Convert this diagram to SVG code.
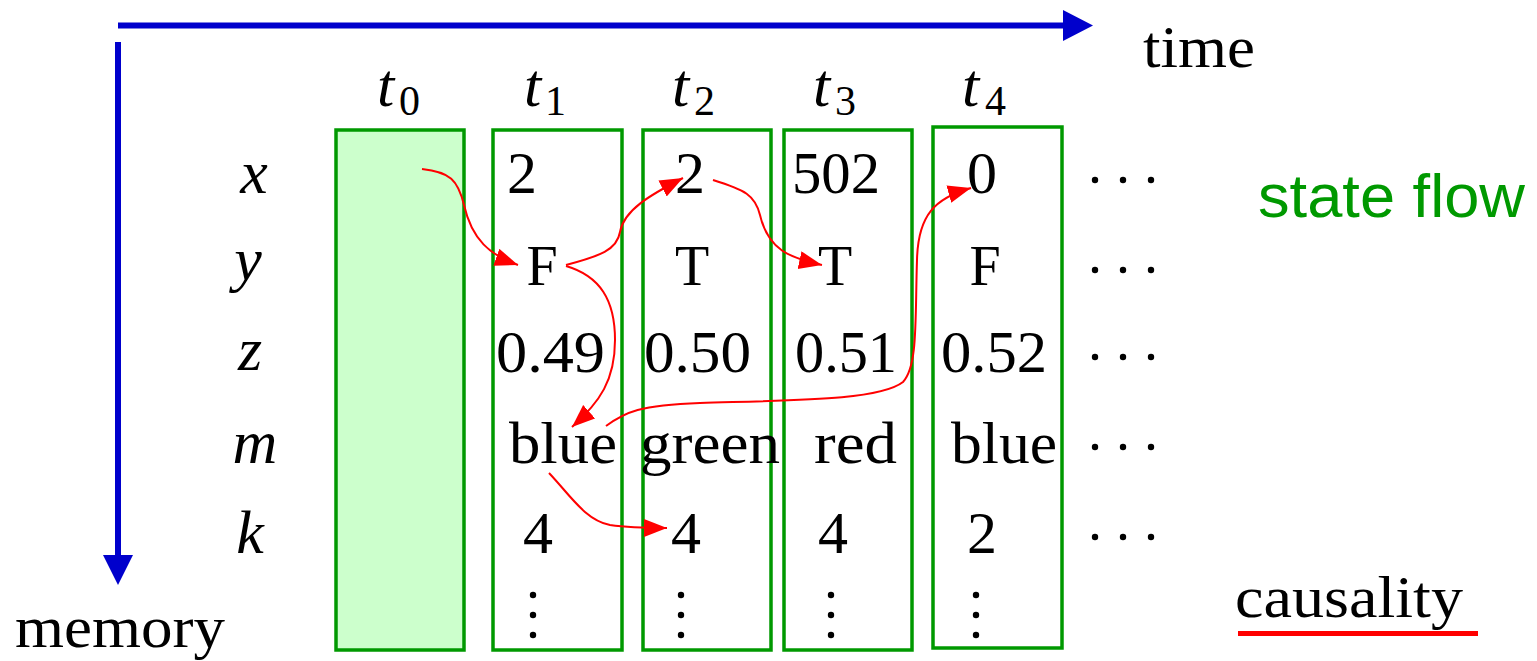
<svg xmlns="http://www.w3.org/2000/svg" width="1537" height="661" viewBox="0 0 1537 661">
<style>
.bg{fill:#ffffff}
.box{fill:none;stroke:#009900;stroke-width:3.5}
.box0{fill:#ccffcc;stroke:#009900;stroke-width:3.5}
.v{font-family:"Liberation Serif",serif;font-size:60px;fill:#000}
.m{font-family:"Liberation Serif",serif;font-size:56px;fill:#000;text-anchor:middle}
.it{font-family:"Liberation Serif",serif;font-style:italic;font-size:62px;fill:#000}
.sub{font-family:"Liberation Serif",serif;font-size:42px;fill:#000}
.rl{font-family:"Liberation Serif",serif;font-style:italic;font-size:62px;fill:#000;text-anchor:middle}
.ax{stroke:#0000cc;stroke-width:6;fill:none}
.axh{fill:#0000cc}
.c{fill:none;stroke:#ff0000;stroke-width:2}
.dot{fill:#000}
.sf{font-family:"Liberation Sans",Arial,sans-serif;font-size:62px;fill:#009900}
</style>
<defs>
<marker id="ah" markerUnits="userSpaceOnUse" markerWidth="26" markerHeight="20" refX="23" refY="9" orient="auto">
<path d="M0,0 L23,9 L0,18 z" fill="#ff0000"/>
</marker>
<g id="hdots"><circle cx="0" cy="0" r="3.2"/><circle cx="28" cy="0" r="3.2"/><circle cx="56" cy="0" r="3.2"/></g>
<g id="vdots"><circle cx="0" cy="595" r="3.2"/><circle cx="0" cy="615" r="3.2"/><circle cx="0" cy="635" r="3.2"/></g>
</defs>
<rect class="bg" x="0" y="0" width="1537" height="661"/>

<g id="axes">
<line class="ax" x1="118" y1="25.5" x2="1066" y2="25.5"/>
<polygon class="axh" points="1063,10 1093,25.5 1063,41"/>
<line class="ax" x1="118" y1="42" x2="118" y2="558"/>
<polygon class="axh" points="103,555 133,555 118,585"/>
<text class="v" x="1143" y="67" textLength="112" lengthAdjust="spacingAndGlyphs">time</text>
<text class="v" x="15" y="647" textLength="210" lengthAdjust="spacingAndGlyphs">memory</text>
</g>

<g id="row-labels">
<text class="rl" x="254" y="193">x</text>
<text class="rl" x="248" y="280">y</text>
<text class="rl" x="250" y="370">z</text>
<text class="rl" x="255" y="463">m</text>
<text class="rl" x="250" y="553">k</text>
</g>

<g id="col-t0">
<rect class="box0" x="336" y="130" width="128" height="520"/>
<text class="it" x="377" y="106">t</text><text class="sub" x="399" y="115">0</text>
</g>

<g id="col-t1">
<rect class="box" x="493" y="130" width="129" height="520"/>
<text class="it" x="524" y="106">t</text><text class="sub" x="545" y="115">1</text>
<text class="v" x="507" y="193">2</text>
<text class="m" x="542" y="285">F</text>
<text class="v" x="496" y="372" textLength="109" lengthAdjust="spacingAndGlyphs">0.49</text>
<text class="v" x="509" y="463" textLength="108" lengthAdjust="spacingAndGlyphs">blue</text>
<text class="v" x="523" y="553">4</text>
<use href="#vdots" x="533" y="0"/>
</g>

<g id="col-t2">
<rect class="box" x="643" y="130" width="128" height="520"/>
<text class="it" x="672" y="106">t</text><text class="sub" x="694" y="115">2</text>
<text class="v" x="675" y="193">2</text>
<text class="m" x="692" y="285">T</text>
<text class="v" x="644" y="372" textLength="107" lengthAdjust="spacingAndGlyphs">0.50</text>
<text class="v" x="640" y="463" textLength="140" lengthAdjust="spacingAndGlyphs">green</text>
<text class="v" x="671" y="553">4</text>
<use href="#vdots" x="681" y="0"/>
</g>

<g id="col-t3">
<rect class="box" x="784" y="130" width="128" height="520"/>
<text class="it" x="813" y="106">t</text><text class="sub" x="835" y="115">3</text>
<text class="v" x="792" y="193" textLength="88" lengthAdjust="spacingAndGlyphs">502</text>
<text class="m" x="835" y="285">T</text>
<text class="v" x="795" y="372" textLength="102" lengthAdjust="spacingAndGlyphs">0.51</text>
<text class="v" x="814" y="463" textLength="83" lengthAdjust="spacingAndGlyphs">red</text>
<text class="v" x="818" y="553">4</text>
<use href="#vdots" x="831" y="0"/>
</g>

<g id="col-t4">
<rect class="box" x="933" y="127" width="129" height="521"/>
<text class="it" x="962" y="106">t</text><text class="sub" x="985" y="115">4</text>
<text class="v" x="967" y="193">0</text>
<text class="m" x="985" y="285">F</text>
<text class="v" x="941" y="372" textLength="106" lengthAdjust="spacingAndGlyphs">0.52</text>
<text class="v" x="951" y="463" textLength="106" lengthAdjust="spacingAndGlyphs">blue</text>
<text class="v" x="967" y="553">2</text>
<use href="#vdots" x="976" y="0"/>
</g>

<g id="continuation" class="dot">
<use href="#hdots" x="1095" y="180"/>
<use href="#hdots" x="1095" y="270"/>
<use href="#hdots" x="1095" y="357"/>
<use href="#hdots" x="1095" y="447"/>
<use href="#hdots" x="1095" y="537"/>
</g>

<g id="connectors">
<path class="c" marker-end="url(#ah)" d="M422 169 C450 172 458 180 464 205 C472 240 490 255 518 265"/>
<path class="c" marker-end="url(#ah)" d="M566 265 C600 256 617 250 620 232 C624 210 650 195 683 178"/>
<path class="c" marker-end="url(#ah)" d="M566 266 C600 276 615 300 615 340 C615 380 600 402 572 427"/>
<path class="c" marker-end="url(#ah)" d="M713 180 C745 190 755 195 760 215 C768 250 790 258 822 265"/>
<path class="c" marker-end="url(#ah)" d="M606 426 C625 412 640 405 700 403 C800 400 880 400 903 382 C918 366 915 320 917 260 C918 215 935 198 971 188"/>
<path class="c" marker-end="url(#ah)" d="M549 473 C570 495 585 520 610 525 C630 528 645 528 667 528"/>
</g>

<g id="legend">
<text class="sf" x="1258" y="217" textLength="267" lengthAdjust="spacingAndGlyphs">state flow</text>
<text class="v" x="1235" y="617" textLength="228" lengthAdjust="spacingAndGlyphs">causality</text>
<line x1="1238" y1="633.5" x2="1478" y2="633.5" stroke="#ff0000" stroke-width="5"/>
</g>
</svg>
